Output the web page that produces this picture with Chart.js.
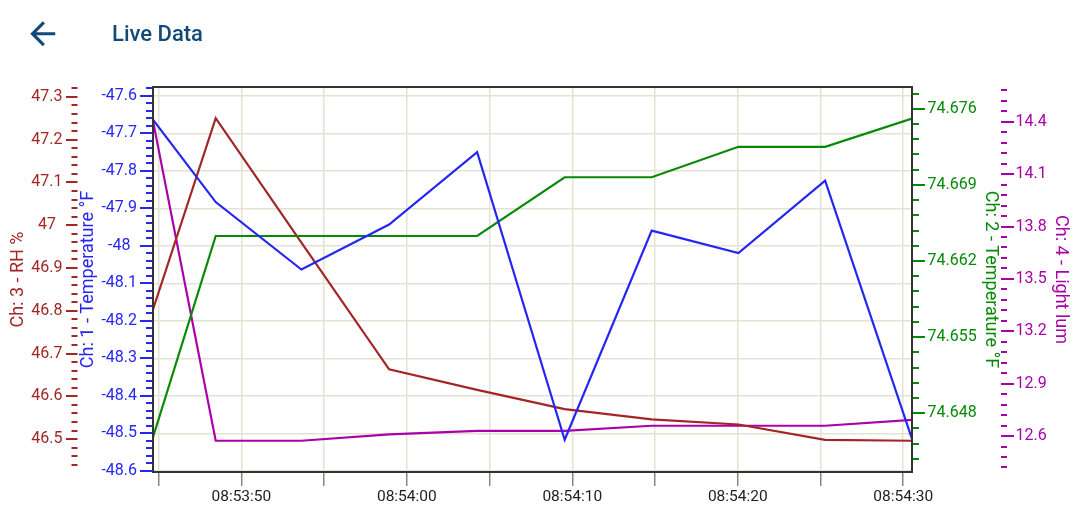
<!DOCTYPE html>
<html>
<head>
<meta charset="utf-8">
<script src="https://cdn.jsdelivr.net/npm/chart.js@4.4.0/dist/chart.umd.min.js"></script>
<style>
  html, body { margin: 0; padding: 0; background: #fff; }
  #wrap { position: relative; width: 1080px; height: 520px; overflow: hidden; font-family: Roboto, sans-serif; }
  #c { position: absolute; left: 0; top: 0; }
  #back { position: absolute; left: 23.75px; top: 14.75px; width: 37.5px; height: 37.5px; }
  #title { position: absolute; left: 112px; top: 21px; font-size: 22px; font-weight: 500; color: #114a78; line-height: normal; }
</style>
</head>
<body>
<div id="wrap">
  <canvas id="c" width="1080" height="520"></canvas>
  <svg id="back" viewBox="0 0 24 24"><path fill="#114a78" d="M20 11H7.83l5.59-5.59L12 4l-8 8 8 8 1.41-1.41L7.83 13H20v-2z"/></svg>
  <div id="title">Live Data</div>
</div>
<script>
  // sample times (hh:mm:ss.ss)
  var times = ['08:53:44.66', '08:53:48.45', '08:53:53.63', '08:53:58.93', '08:54:04.25',
               '08:54:09.54', '08:54:14.80', '08:54:20.04', '08:54:25.28', '08:54:30.53'];

  var ch1Temp = [-47.663, -47.883, -48.063, -47.943, -47.750, -48.517, -47.959, -48.019, -47.826, -48.515];
  var ch2Temp = [74.6458, 74.6643, 74.6643, 74.6643, 74.6643, 74.6697, 74.6697, 74.6725, 74.6725, 74.6751];
  var ch3RH = [46.803, 47.250, 46.959, 46.663, 46.615, 46.570, 46.546, 46.534, 46.498, 46.496];
  var ch4Light = [14.405, 12.573, 12.573, 12.610, 12.630, 12.630, 12.659, 12.659, 12.659, 12.692];

  // axis ranges and labelled ticks
  var ch1Range = [-48.603, -47.576];
  var ch2Range = [74.6426, 74.6780];
  var ch3Range = [46.423, 47.323];
  var ch4Range = [12.394, 14.599];

  var ch1Ticks = [-48.6, -48.5, -48.4, -48.3, -48.2, -48.1, -48, -47.9, -47.8, -47.7, -47.6];
  var ch2Ticks = [74.648, 74.655, 74.662, 74.669, 74.676];
  var ch3Ticks = [46.5, 46.6, 46.7, 46.8, 46.9, 47, 47.1, 47.2, 47.3];
  var ch4Ticks = [12.6, 12.9, 13.2, 13.5, 13.8, 14.1, 14.4];

  var xTicks = ['08:53:45', '08:53:50', '08:53:55', '08:54:00', '08:54:05',
                '08:54:10', '08:54:15', '08:54:20', '08:54:25', '08:54:30'];

  var colors = {
    ch1: '#2626f2',
    ch2: '#068a06',
    ch3: '#a32626',
    ch4: '#aa00aa',
    grid: '#e3e3d3',
    border: '#333333',
    xTick: '#888888',
    text: '#222222'
  };

  function toSec(s) {
    var p = s.split(':');
    return (+p[0]) * 3600 + (+p[1]) * 60 + parseFloat(p[2]);
  }

  function pad2(n) { return (n < 10 ? '0' : '') + n; }

  function fmtTime(v) {
    var t = Math.round(v);
    return pad2(Math.floor(t / 3600)) + ':' + pad2(Math.floor(t / 60) % 60) + ':' + pad2(t % 60);
  }

  function points(values) {
    return values.map(function(v, i) { return { x: toSec(times[i]), y: v }; });
  }

  function fixTicks(arr) {
    return function(scale) {
      scale.ticks = arr.map(function(v) { return { value: v }; });
    };
  }

  function numLabel(v) { return String(+v.toFixed(4)); }

  // minor / major tick marks drawn beside each value axis
  var markSpec = {
    y1: { base: -48.6, step: 0.02, major: 5, color: colors.ch1, long: 13, short: 7 },
    y3: { base: 46.5, step: 0.02, major: 5, color: colors.ch3, long: 11.5, short: 6 },
    y2: { base: 74.648, step: 0.0014, major: 5, color: colors.ch2, long: 13, short: 7 },
    y4: { base: 12.6, step: 0.06, major: 5, color: colors.ch4, long: 13, short: 6 }
  };

  var tickMarks = {
    id: 'tickMarks',
    afterDraw: function(chart) {
      var ctx = chart.ctx;
      var area = chart.chartArea;
      Object.keys(markSpec).forEach(function(id) {
        var s = chart.scales[id];
        var spec = markSpec[id];
        var n0 = Math.ceil((s.min - spec.base) / spec.step - 1e-6);
        var n1 = Math.floor((s.max - spec.base) / spec.step + 1e-6);
        ctx.save();
        ctx.strokeStyle = spec.color;
        ctx.lineWidth = 2;
        ctx.beginPath();
        for (var n = n0; n <= n1; n++) {
          var y = Math.round(s.getPixelForValue(spec.base + n * spec.step));
          var len = (n % spec.major === 0) ? spec.long : spec.short;
          if (s.position === 'left') {
            ctx.moveTo(s.right - len, y);
            ctx.lineTo(s.right, y);
          } else {
            ctx.moveTo(s.left, y);
            ctx.lineTo(s.left + len, y);
          }
        }
        ctx.stroke();
        ctx.restore();
      });
      // plot frame
      ctx.save();
      ctx.strokeStyle = colors.border;
      ctx.lineWidth = 2;
      ctx.strokeRect(area.left, area.top, area.right - area.left, area.bottom - area.top);
      ctx.restore();
    }
  };

  function valueAxis(opts) {
    return {
      type: 'linear',
      position: opts.position,
      weight: opts.weight,
      min: opts.range[0],
      max: opts.range[1],
      afterBuildTicks: fixTicks(opts.ticks),
      afterFit: function(scale) { scale.width = opts.width; },
      border: { display: false },
      grid: {
        display: !!opts.grid,
        drawTicks: false,
        color: colors.grid,
        lineWidth: 1.5
      },
      ticks: {
        color: opts.color,
        padding: opts.pad,
        crossAlign: 'center',
        font: { family: 'Roboto', size: 16 },
        callback: numLabel
      },
      title: {
        display: true,
        text: opts.title,
        color: opts.color,
        font: { family: 'Roboto', size: 18 },
        padding: { top: opts.titlePad, bottom: 0 }
      }
    };
  }

  Chart.defaults.font.family = 'Roboto';

  new Chart(document.getElementById('c'), {
    type: 'line',
    data: {
      datasets: [
        { label: 'Ch: 1 - Temperature °F', data: points(ch1Temp), borderColor: colors.ch1, yAxisID: 'y1' },
        { label: 'Ch: 2 - Temperature °F', data: points(ch2Temp), borderColor: colors.ch2, yAxisID: 'y2' },
        { label: 'Ch: 3 - RH %', data: points(ch3RH), borderColor: colors.ch3, yAxisID: 'y3' },
        { label: 'Ch: 4 - Light lum', data: points(ch4Light), borderColor: colors.ch4, yAxisID: 'y4' }
      ]
    },
    options: {
      responsive: false,
      animation: false,
      devicePixelRatio: 1,
      layout: { padding: { top: 87, left: 0, right: 0, bottom: 0 } },
      elements: {
        point: { radius: 0, hoverRadius: 0 },
        line: { borderWidth: 2.2, tension: 0, fill: false }
      },
      plugins: {
        legend: { display: false },
        tooltip: { enabled: false }
      },
      scales: {
        x: {
          type: 'linear',
          min: toSec(times[0]),
          max: toSec(times[times.length - 1]),
          afterBuildTicks: function(scale) {
            scale.ticks = xTicks.map(function(t) { return { value: toSec(t) }; });
          },
          afterFit: function(scale) { scale.height = 48; },
          border: { display: false },
          grid: {
            color: colors.grid,
            lineWidth: 1.5,
            tickColor: colors.xTick,
            tickLength: 14,
            tickWidth: 1.5
          },
          ticks: {
            color: colors.text,
            padding: 2,
            maxRotation: 0,
            autoSkip: false,
            font: { family: 'Roboto', size: 15.5 },
            callback: function(v) {
              return Math.round(v) % 10 === 0 ? fmtTime(v) : '';
            }
          }
        },
        y1: valueAxis({ position: 'left', weight: 0, range: ch1Range, ticks: ch1Ticks, width: 75.5, pad: 16, grid: true,
                        color: colors.ch1, title: 'Ch: 1 - Temperature °F', titlePad: 0 }),
        y3: valueAxis({ position: 'left', weight: 1, range: ch3Range, ticks: ch3Ticks, width: 77.5, pad: 15,
                        color: colors.ch3, title: 'Ch: 3 - RH %', titlePad: 8 }),
        y2: valueAxis({ position: 'right', weight: 0, range: ch2Range, ticks: ch2Ticks, width: 89, pad: 15.5,
                        color: colors.ch2, title: 'Ch: 2 - Temperature °F', titlePad: 0 }),
        y4: valueAxis({ position: 'right', weight: 1, range: ch4Range, ticks: ch4Ticks, width: 79, pad: 14.5,
                        color: colors.ch4, title: 'Ch: 4 - Light lum', titlePad: 9 })
      }
    },
    plugins: [tickMarks]
  });
</script>
</body>
</html>
